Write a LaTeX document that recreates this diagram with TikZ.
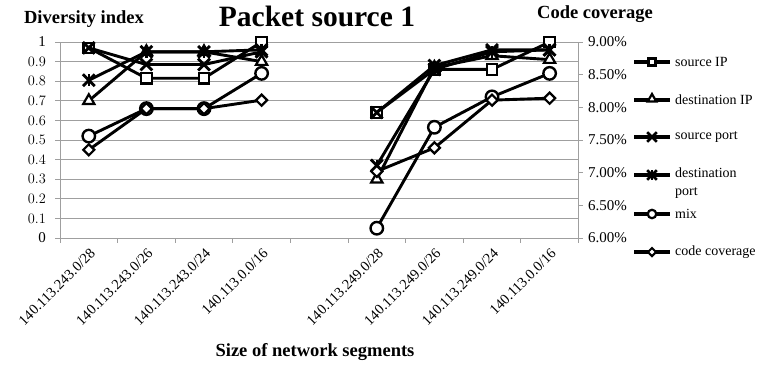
\documentclass[tikz,border=0pt]{standalone}
\usepackage{fontspec}
\setmainfont{Liberation Serif}
\usetikzlibrary{shapes.geometric, shapes.misc}
\usetikzlibrary{positioning}

\begin{document}
\begin{tikzpicture}[
    x=1pt, y=-1pt,
    gridline/.style={draw=gray!75, line width=0.8pt},
    series/.style={draw=black, line width=2.9pt, line join=round},
    mksquare/.style={rectangle, draw=black, fill=white, line width=2.2pt, minimum size=10.5pt, inner sep=0pt},
    mktriangle/.style={regular polygon, regular polygon sides=3, draw=black, fill=white, line width=2.2pt, minimum size=13pt, inner sep=0pt},
    mkcross/.style={cross out, draw=black, line width=2.8pt, minimum size=9pt, inner sep=0pt},
    mkcircle/.style={circle, draw=black, fill=white, line width=2.4pt, minimum size=12.5pt, inner sep=0pt},
    mkdiamond/.style={diamond, draw=black, fill=white, line width=2.2pt, minimum size=12pt, inner sep=0pt},
    ticklabel/.style={font=\fontsize{15}{17}\selectfont, inner sep=0pt},
    catlabel/.style={font=\fontsize{14.5}{17}\selectfont, inner sep=0pt},
    axistitle/.style={font=\fontsize{18.5}{20}\selectfont\bfseries, inner sep=0pt},
    legendtext/.style={font=\fontsize{14}{18}\selectfont, inner sep=0pt, anchor=west, align=left}
]
\useasboundingbox (0,0) rectangle (764,365);

% --- Titles ---
\node[font=\fontsize{29.5}{32}\selectfont\bfseries] (title) at (317,16) {Packet source 1};
\node[axistitle] (ylabel) at (84,19) {Diversity index};
\node[axistitle] (y2label) at (595,14) {Code coverage};
\node[axistitle] (xlabel) at (315,352) {Size of network segments};

% --- Grid and axes ---
\foreach \k in {1,...,10}
    \draw[gridline] (60,{238-19.6*\k}) -- (578,{238-19.6*\k});
\draw[gridline] (60,42) -- (60,238) -- (578,238) -- (578,42);
\foreach \k in {0,...,10}
{
    \draw[gridline] (55,{238-19.6*\k}) -- (60,{238-19.6*\k});
    \node[ticklabel, anchor=east] (yt\k) at (46,{238-19.6*\k}) {\pgfmathparse{\k/10}\ifnum\k=0 0\else\ifnum\k=10 1\else\pgfmathprintnumber[fixed,precision=1]{\pgfmathresult}\fi\fi};
}
\foreach \k/\lab in {0/6.00\%,1/6.50\%,2/7.00\%,3/7.50\%,4/8.00\%,5/8.50\%,6/9.00\%}
{
    \draw[gridline] (578,{238-196*\k/6}) -- (583,{238-196*\k/6});
    \node[ticklabel, anchor=west] (rt\k) at (588,{238-196*\k/6}) {\lab};
}
\foreach \k in {0,...,9}
    \draw[gridline] ({60+57.6*\k},238) -- ({60+57.6*\k},243);

% --- Category labels ---
\foreach \c/\lab in {1/{140.113.243.0/28},2/{140.113.243.0/26},3/{140.113.243.0/24},4/{140.113.0.0/16},
                     6/{140.113.249.0/28},7/{140.113.249.0/26},8/{140.113.249.0/24},9/{140.113.0.0/16}}
    \node[catlabel, rotate=45, anchor=east] (cat\c) at ({60+57.6*(\c-0.5)+4},251) {\lab};

% --- source IP ---
\foreach \c/\v in {1/0.97,2/0.815,3/0.815,4/1.00,6/0.64,7/0.86,8/0.86,9/1.00}
    \coordinate (sip\c) at ({60+57.6*(\c-0.5)},{238-196*\v});
\draw[series] (sip1) -- (sip2) -- (sip3) -- (sip4) (sip6) -- (sip7) -- (sip8) -- (sip9);
\foreach \c in {1,2,3,4,6,7,8,9}
    \node[mksquare] (msip\c) at (sip\c) {};

% --- destination IP ---
\foreach \c/\v in {1/0.70,2/0.95,3/0.95,4/0.90,6/0.30,7/0.87,8/0.93,9/0.91}
    \coordinate (dip\c) at ({60+57.6*(\c-0.5)},{238-196*\v});
\draw[series] (dip1) -- (dip2) -- (dip3) -- (dip4) (dip6) -- (dip7) -- (dip8) -- (dip9);
\foreach \c in {1,2,3,4,6,7,8,9}
    \node[mktriangle] (mdip\c) at (dip\c) {};

% --- source port ---
\foreach \c/\v in {1/0.97,2/0.885,3/0.885,4/0.95,6/0.64,7/0.88,8/0.96,9/0.96}
    \coordinate (sport\c) at ({60+57.6*(\c-0.5)},{238-196*\v});
\draw[series] (sport1) -- (sport2) -- (sport3) -- (sport4) (sport6) -- (sport7) -- (sport8) -- (sport9);
\foreach \c in {1,2,3,4,6,7,8,9}
    \node[mkcross] (msport\c) at (sport\c) {};

% --- destination port ---
\foreach \c/\v in {1/0.805,2/0.95,3/0.95,4/0.96,6/0.37,7/0.86,8/0.95,9/0.96}
    \coordinate (dport\c) at ({60+57.6*(\c-0.5)},{238-196*\v});
\draw[series] (dport1) -- (dport2) -- (dport3) -- (dport4) (dport6) -- (dport7) -- (dport8) -- (dport9);
\foreach \c in {1,2,3,4,6,7,8,9}
{
    \node[mkcross] (mdport\c) at (dport\c) {};
    \draw[line width=2.4pt] (mdport\c.north) -- (mdport\c.south);
}

% --- mix ---
\foreach \c/\v in {1/0.52,2/0.66,3/0.66,4/0.84,6/0.05,7/0.565,8/0.72,9/0.84}
    \coordinate (mix\c) at ({60+57.6*(\c-0.5)},{238-196*\v});
\draw[series] (mix1) -- (mix2) -- (mix3) -- (mix4) (mix6) -- (mix7) -- (mix8) -- (mix9);
\foreach \c in {1,2,3,4,6,7,8,9}
    \node[mkcircle] (mmix\c) at (mix\c) {};

% --- code coverage (right axis) ---
\foreach \c/\p in {1/7.35,2/7.98,3/7.98,4/8.11,6/7.02,7/7.38,8/8.11,9/8.14}
    \coordinate (cov\c) at ({60+57.6*(\c-0.5)},{238-196*(\p-6)/3});
\draw[series] (cov1) -- (cov2) -- (cov3) -- (cov4) (cov6) -- (cov7) -- (cov8) -- (cov9);
\foreach \c in {1,2,3,4,6,7,8,9}
    \node[mkdiamond] (mcov\c) at (cov\c) {};

% --- Legend ---
\foreach \n/\y in {1/62,2/100,3/137,4/175,5/214,6/252}
{
    \coordinate (la\n) at (634,\y);
    \coordinate (lb\n) at (670,\y);
    \draw[line width=3.6pt] (la\n) -- (lb\n);
}
\node[mksquare, minimum size=7pt, line width=2.4pt] (lm1) at (652,62) {};
\node[mktriangle, minimum size=10pt, line width=2.2pt] (lm2) at (652,99) {};
\node[mkcross, minimum size=7pt, line width=2.6pt] (lm3) at (652,137) {};
\node[mkcross, minimum size=7pt, line width=2.6pt] (lm4) at (652,175) {};
\draw[line width=2.2pt] (lm4.north) -- (lm4.south);
\node[mkcircle, minimum size=8.5pt, line width=2.2pt] (lm5) at (652,214) {};
\node[mkdiamond, minimum size=9pt, line width=2pt] (lm6) at (652,252) {};

\node[legendtext] (lt1) at (lb1) [xshift=5pt] {source IP};
\node[legendtext] (lt2) at (lb2) [xshift=5pt] {destination IP};
\node[legendtext] (lt3) at (lb3) [xshift=5pt] {source port};
\node[legendtext, anchor=north west] (lt4) at (lb4) [xshift=5pt, yshift=7pt] {destination\\port};
\node[legendtext] (lt5) at (lb5) [xshift=5pt] {mix};
\node[legendtext] (lt6) at (lb6) [xshift=5pt] {code coverage};

\end{tikzpicture}
\end{document}
